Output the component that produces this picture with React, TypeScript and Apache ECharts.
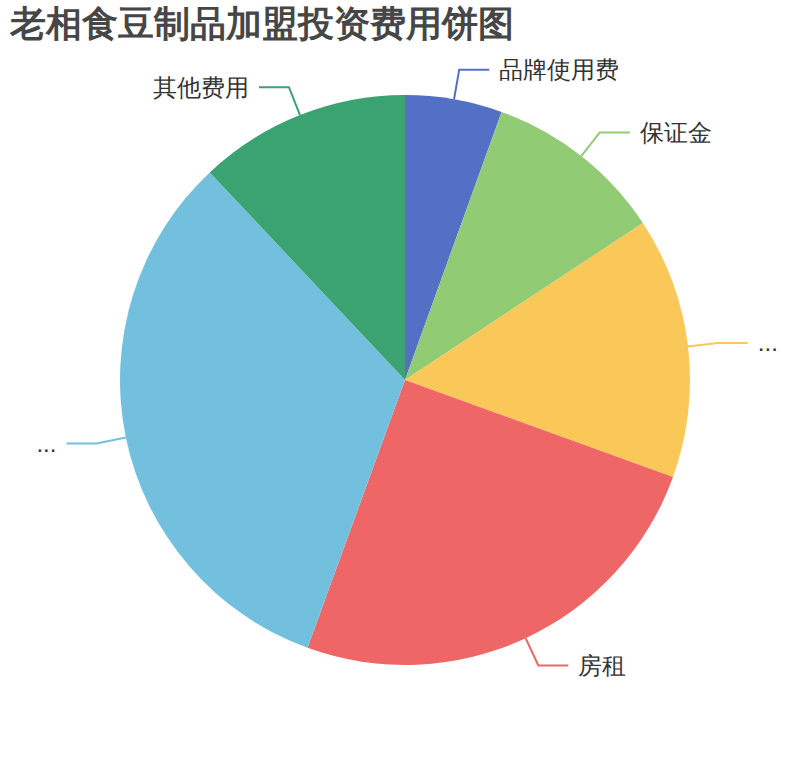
import { useEffect, useRef } from 'react';
import * as echarts from 'echarts';

// ─── Data ─────────────────────────────────────────────────────────────────────

const titleText = '老相食豆制品加盟投资费用饼图';

const categories = [
  '品牌使用费',
  '保证金',
  '设备及装修费用',
  '房租',
  '首批进货及流动资金',
  '其他费用',
];

const values = [5.5, 10.2, 14.8, 25.0, 32.4, 12.0];

// labels that the original clipped down to a bare ellipsis
const clippedLabels = ['设备及装修费用', '首批进货及流动资金'];

const colors = ['#5470c6', '#91cc75', '#fac858', '#ee6666', '#73c0de', '#3ba272'];

// ─── Option builder ───────────────────────────────────────────────────────────

function buildOption(): echarts.EChartsOption {
  return {
    animation: false,
    color: colors,
    title: {
      text: titleText,
      left: 5,
      top: 0,
      textStyle: { fontSize: 36, fontWeight: 'bold', color: '#464646' },
    },
    series: [
      {
        type: 'pie',
        radius: '75%',
        center: ['50%', '50%'],
        startAngle: 90,
        clockwise: true,
        data: categories.map((name, i) => ({
          name,
          value: values[i],
          label: clippedLabels.includes(name)
            ? { width: 30, overflow: 'truncate' }
            : undefined,
        })),
        label: { fontSize: 24, color: '#333', distanceToLabelLine: 10 },
        labelLine: { length: 30, length2: 30, lineStyle: { width: 2 } },
      },
    ],
  };
}

// ─── Chart ────────────────────────────────────────────────────────────────────

export default function App() {
  const containerRef = useRef<HTMLDivElement>(null);

  useEffect(() => {
    document.body.style.margin = '0';
    if (!containerRef.current) return;
    const chart = echarts.init(containerRef.current, null, { renderer: 'svg' });
    chart.setOption(buildOption());
    return () => chart.dispose();
  }, []);

  return <div ref={containerRef} style={{ width: 810, height: 760 }} />;
}
